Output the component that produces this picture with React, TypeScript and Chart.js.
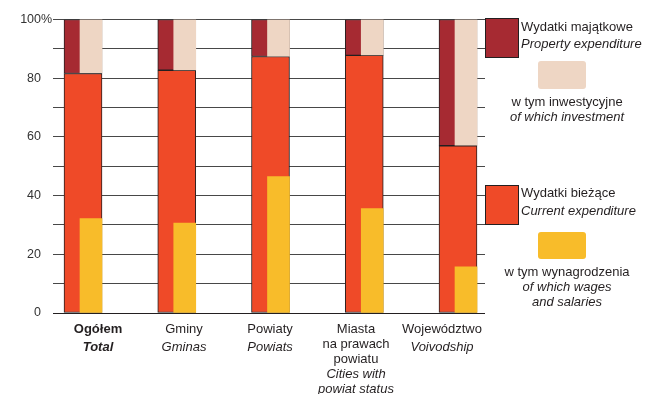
import React, { useEffect, useRef } from 'react';
import { Chart, registerables } from 'chart.js';
Chart.register(...registerables);

const categoriesPL: string[][] = [['Ogółem'], ['Gminy'], ['Powiaty'], ['Miasta', 'na prawach', 'powiatu'], ['Województwo']];
const categoriesEN: string[][] = [['Total'], ['Gminas'], ['Powiats'], ['Cities with', 'powiat status'], ['Voivodship']];
const currentExp = [81.6, 82.7, 87.4, 87.8, 57.0];
const propertyExp = [18.4, 17.3, 12.6, 12.2, 43.0];
const wages = [32.2, 30.6, 46.5, 35.6, 15.7];
const investment = [18.1, 17.2, 12.5, 12.1, 42.8];
const yTickLabels = [0, 20, 40, 60, 80, 100];

const legendProperty = ['Wydatki majątkowe', 'Property expenditure'];
const legendInvestment = ['w tym inwestycyjne', 'of which investment'];
const legendCurrent = ['Wydatki bieżące', 'Current expenditure'];
const legendWages = ['w tym wynagrodzenia', 'of which wages', 'and salaries'];

const C_PROPERTY = '#a62a32';
const C_INVEST = '#eed6c4';
const C_CURRENT = '#ef4a28';
const C_WAGES = '#f8bc2a';
const C_TEXT = '#231f20';
const FONT = '"Liberation Sans", Arial, sans-serif';
const FS = 13;
const NARROW_OFFSET = 0.0853;

const labelsPlugin = {
  id: 'customLabels',
  afterDraw(chart: any) {
    const ctx = chart.ctx;
    const xc = chart.scales.xc;
    const y = chart.scales.y;
    ctx.save();
    ctx.textBaseline = 'middle';
    ctx.textAlign = 'left';
    ctx.font = `12.5px ${FONT}`;
    ctx.fillStyle = '#333';
    ctx.fillText('%', 41, y.getPixelForValue(100));
    ctx.fillStyle = C_TEXT;
    ctx.textAlign = 'center';
    categoriesPL.forEach((pl, i) => {
      const x = xc.getPixelForValue(i);
      const bold = i === 0;
      let yy = 329;
      pl.forEach((line) => {
        ctx.font = `${bold ? 'bold ' : ''}${FS}px ${FONT}`;
        ctx.fillText(line, x, yy);
        yy += 15;
      });
      if (pl.length === 1) yy += 3;
      categoriesEN[i].forEach((line) => {
        ctx.font = `italic ${bold ? 'bold ' : ''}${FS}px ${FONT}`;
        ctx.fillText(line, x, yy);
        yy += 15;
      });
    });
    const box = (x: number, yb: number, w: number, h: number, c: string, border: boolean) => {
      ctx.fillStyle = c;
      if (border) {
        ctx.fillRect(x, yb, w, h);
        ctx.strokeStyle = C_TEXT;
        ctx.lineWidth = 1;
        ctx.strokeRect(x + 0.5, yb + 0.5, w - 1, h - 1);
      } else {
        ctx.beginPath();
        ctx.roundRect(x, yb, w, h, 3);
        ctx.fill();
      }
    };
    box(485, 18, 34, 40, C_PROPERTY, true);
    box(538, 61, 48, 28, C_INVEST, false);
    box(485, 185, 34, 40, C_CURRENT, true);
    box(538, 232, 48, 27, C_WAGES, false);
    ctx.fillStyle = C_TEXT;
    ctx.textAlign = 'left';
    ctx.font = `${FS}px ${FONT}`;
    ctx.fillText(legendProperty[0], 521, 27);
    ctx.font = `italic ${FS}px ${FONT}`;
    ctx.fillText(legendProperty[1], 521, 44);
    ctx.font = `${FS}px ${FONT}`;
    ctx.fillText(legendCurrent[0], 521, 193);
    ctx.font = `italic ${FS}px ${FONT}`;
    ctx.fillText(legendCurrent[1], 521, 211);
    ctx.textAlign = 'center';
    ctx.font = `${FS}px ${FONT}`;
    ctx.fillText(legendInvestment[0], 567, 102);
    ctx.font = `italic ${FS}px ${FONT}`;
    ctx.fillText(legendInvestment[1], 567, 117);
    ctx.font = `${FS}px ${FONT}`;
    ctx.fillText(legendWages[0], 567, 272);
    ctx.font = `italic ${FS}px ${FONT}`;
    ctx.fillText(legendWages[1], 567, 287);
    ctx.fillText(legendWages[2], 567, 302);
    ctx.restore();
  },
};

export default function App() {
  const ref = useRef<HTMLCanvasElement>(null);
  useEffect(() => {
    if (!ref.current) return;
    const chart = new Chart(ref.current, {
      type: 'bar',
      data: {
        datasets: [
          {
            label: 'Wydatki bieżące',
            data: currentExp.map((v, i) => ({ x: i, y: v })),
            backgroundColor: C_CURRENT,
            borderColor: C_TEXT,
            borderWidth: 1,
            borderSkipped: false,
            barThickness: 38,
            grouped: false,
            order: 2,
          },
          {
            label: 'Wydatki majątkowe',
            data: propertyExp.map((v, i) => ({ x: i, y: [currentExp[i], currentExp[i] + v] })),
            backgroundColor: C_PROPERTY,
            borderColor: C_TEXT,
            borderWidth: 1,
            borderSkipped: false,
            barThickness: 38,
            grouped: false,
            order: 2,
          },
          {
            label: 'w tym wynagrodzenia',
            data: wages.map((v, i) => ({ x: i + NARROW_OFFSET, y: v })),
            backgroundColor: C_WAGES,
            borderWidth: 0,
            barThickness: 22,
            grouped: false,
            order: 1,
          },
          {
            label: 'w tym inwestycyjne',
            data: investment.map((v, i) => ({ x: i + NARROW_OFFSET, y: [100 - v, 100] })),
            backgroundColor: C_INVEST,
            borderWidth: 0,
            barThickness: 22,
            grouped: false,
            order: 1,
          },
        ] as any,
      },
      options: {
        animation: false,
        responsive: false,
        layout: { padding: { left: 0, right: 162, top: 18, bottom: 81 } },
        plugins: { legend: { display: false }, tooltip: { enabled: false } },
        scales: {
          x: {
            type: 'linear',
            display: false,
            offset: false,
            bounds: 'ticks',
            min: -0.2987,
            max: 4.288,
            grid: { offset: false },
          },
          xc: {
            type: 'category',
            labels: categoriesPL.map((l) => l[0]),
            offset: true,
            display: false,
          },
          y: {
            min: 0,
            max: 100,
            border: { display: false },
            grid: {
              color: (c: any) => (c.tick && c.tick.value === 0 ? '#231f20' : '#484848'),
              tickLength: 2,
              lineWidth: 1,
            },
            ticks: {
              stepSize: 10,
              padding: 12,
              color: '#333',
              font: { family: FONT, size: 12.5 },
              callback: (v: any) => (yTickLabels.includes(Number(v)) ? String(v) : ''),
            },
            afterFit: (s: any) => {
              s.width = 55;
            },
          },
        },
      } as any,
      plugins: [labelsPlugin],
    });
    return () => chart.destroy();
  }, []);
  return (
    <div style={{ position: 'absolute', left: 0, top: 0, width: 647, height: 394, background: '#fff' }}>
      <canvas ref={ref} width={647} height={394} />
    </div>
  );
}
